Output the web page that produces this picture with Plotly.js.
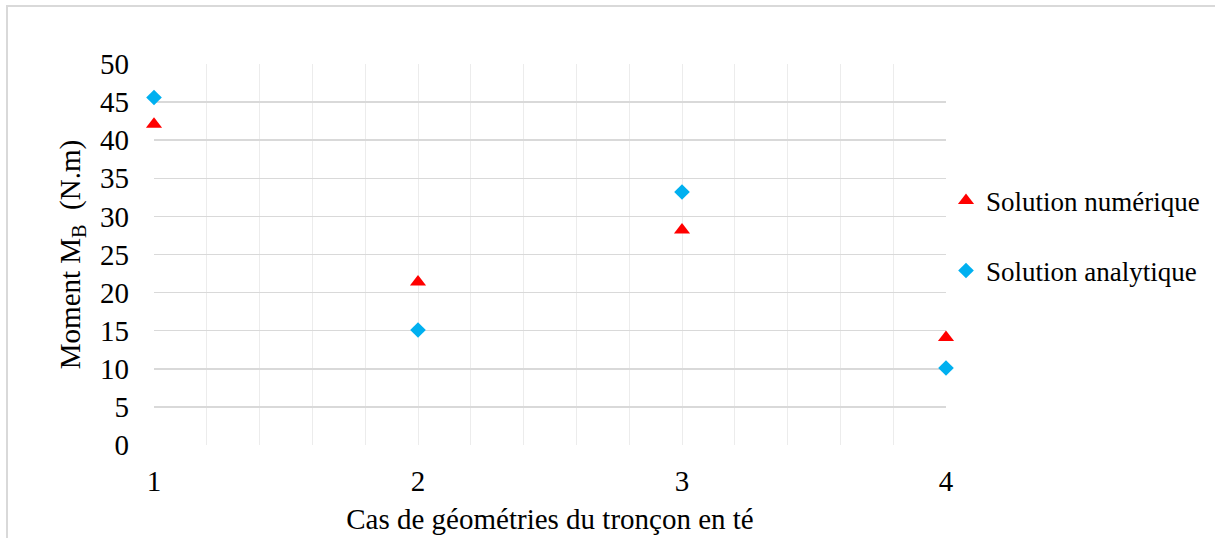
<!DOCTYPE html>
<html>
<head>
<meta charset="utf-8">
<script src="https://cdn.plot.ly/plotly-3.0.1.min.js"></script>
<style>html,body{margin:0;padding:0;background:#fff;}#chart{width:1215px;height:538px;}</style>
</head>
<body>
<div id="chart"></div>
<script>
var cases = [1, 2, 3, 4];
var numerique = [42.1, 21.4, 28.2, 14.1];
var analytique = [45.6, 15.1, 33.2, 10.1];
var xTickLabels = ['1', '2', '3', '4'];
var yTicks = [0, 5, 10, 15, 20, 25, 30, 35, 40, 45, 50];

var FONT = 'Liberation Serif, Times New Roman, serif';

var traces = [
  {
    x: cases, y: numerique, type: 'scatter', mode: 'markers',
    name: 'Solution numérique', legendgroup: 'a',
    marker: {symbol: 'triangle-up', size: 14, color: '#FF0000'},
    cliponaxis: false
  },
  {
    x: cases, y: analytique, type: 'scatter', mode: 'markers',
    name: 'Solution analytique', legendgroup: 'b',
    marker: {symbol: 'diamond', size: 12, color: '#00B0F0'},
    cliponaxis: false
  }
];

var layout = {
  width: 1215, height: 538,
  margin: {l: 154, r: 269, t: 64, b: 93, autoexpand: false},
  paper_bgcolor: '#fff', plot_bgcolor: '#fff',
  font: {family: FONT, size: 28, color: '#000'},
  showlegend: true,
  legend: {
    x: 1.0, xanchor: 'left', y: 0.705, yanchor: 'top',
    traceorder: 'grouped', tracegroupgap: 32,
    font: {family: FONT, size: 27, color: '#000'},
    itemwidth: 30
  },
  xaxis: {
    range: [1, 4], tickvals: cases, ticktext: xTickLabels,
    showgrid: false, zeroline: false, showline: false,
    ticks: '', ticklabelstandoff: 16,
    tickfont: {family: FONT, size: 29, color: '#000'},
    minor: {dtick: 0.2, tick0: 1, showgrid: true, gridcolor: '#ececec', gridwidth: 1},
    title: {text: 'Cas de géométries du tronçon en té', font: {family: FONT, size: 29, color: '#000'}, standoff: 12},
    automargin: false, fixedrange: true
  },
  yaxis: {
    range: [0, 50], tickvals: yTicks,
    showgrid: true, gridcolor: '#d9d9d9', gridwidth: 1.5,
    zeroline: false, showline: false, ticks: '', ticklabelstandoff: 24,
    tickfont: {family: FONT, size: 29, color: '#000'},
    title: {text: 'Moment M<sub>B</sub>  (N.m)', font: {family: FONT, size: 29, color: '#000'}, standoff: 10},
    automargin: false, fixedrange: true
  },
  shapes: [
    {type: 'rect', xref: 'paper', yref: 'paper',
     x0: -147/792, x1: 1.4, y0: -0.4, y1: (445 - 6) / 381,
     line: {color: '#d9d9d9', width: 2}, fillcolor: 'rgba(0,0,0,0)', layer: 'below'}
  ]
};

Plotly.newPlot('chart', traces, layout, {displayModeBar: false, staticPlot: true});
</script>
</body>
</html>
